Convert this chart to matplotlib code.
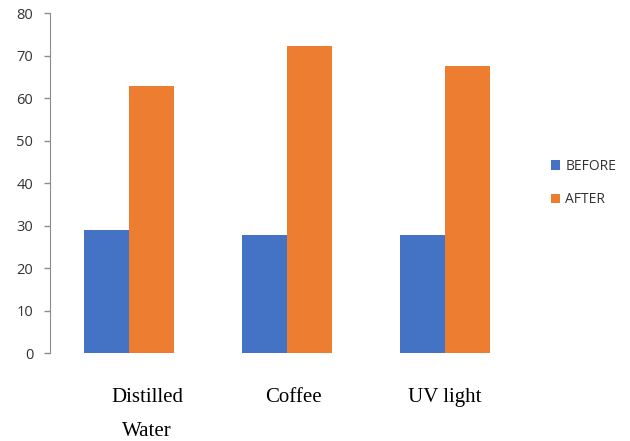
import numpy as np
import matplotlib
matplotlib.use('Agg')
import matplotlib.pyplot as plt
from matplotlib.transforms import ScaledTranslation

# data
categories = ['Distilled\nWater', 'Coffee', 'UV light']
before = [29.0, 27.8, 27.8]
after = [62.8, 72.2, 67.5]
series_names = ['BEFORE', 'AFTER']
yticks = [0, 10, 20, 30, 40, 50, 60, 70, 80]

blue = '#4472C4'
orange = '#ED7D31'

fig = plt.figure(figsize=(6.3, 4.41), dpi=100)
ax = fig.add_axes([0.0794, 0.1995, 0.7526, 0.771])

x = np.arange(len(categories))
w = 0.285
ax.bar(x - w/2, before, width=w, color=blue, label=series_names[0])
ax.bar(x + w/2, after, width=w, color=orange, label=series_names[1])

ax.set_xlim(-0.5, len(categories) - 0.5)
ax.set_ylim(0, 80)
ax.set_yticks(yticks)
ax.set_yticklabels([str(v) for v in yticks], family='Open Sans', fontsize=10.5, color='#333333')

ax.set_xticks(x)
ax.set_xticklabels(categories, family='Liberation Serif', fontsize=15, linespacing=2.1,
                   va='top', color='black')
ax.tick_params(axis='x', length=0, pad=25)
ax.tick_params(axis='y', length=4, color='#8c8c8c', width=1, pad=8)

# the labels in the original sit a little right of the group centres
shifts = [18, 6, 0]
for lbl, dx in zip(ax.get_xticklabels(), shifts):
    lbl.set_transform(lbl.get_transform() + ScaledTranslation(dx / 100, 0, fig.dpi_scale_trans))

for side in ['top', 'right', 'bottom']:
    ax.spines[side].set_visible(False)
ax.spines['left'].set_color('#8c8c8c')

leg = ax.legend(loc='center left', bbox_to_anchor=(0.874, 0.585), bbox_transform=fig.transFigure,
                frameon=False, prop={'family': 'Open Sans', 'size': 10},
                handlelength=0.65, handleheight=0.65, handletextpad=0.4,
                labelspacing=1.3, borderpad=0, borderaxespad=0)
for t in leg.get_texts():
    t.set_color('#333333')

fig.savefig('out.png', dpi=100)
